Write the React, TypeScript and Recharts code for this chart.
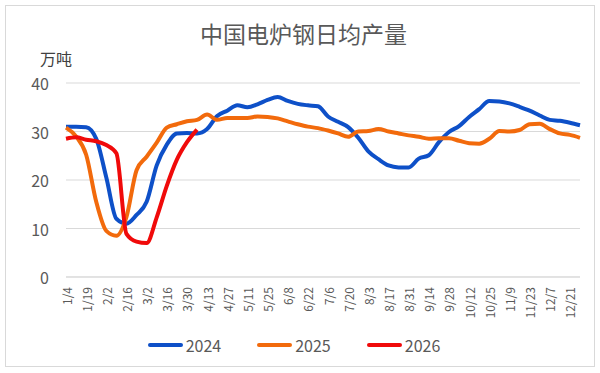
import React from 'react';
import { LineChart, Line, XAxis, YAxis, CartesianGrid, Legend } from 'recharts';

const dates = [
  '1/4', '1/11', '1/19', '1/26', '2/2', '2/9', '2/16', '2/23', '3/2', '3/9', '3/16', '3/23', '3/30',
  '4/6', '4/13', '4/20', '4/27', '5/4', '5/11', '5/18', '5/25', '6/1', '6/8', '6/15', '6/22', '6/29',
  '7/6', '7/13', '7/20', '7/27', '8/3', '8/10', '8/17', '8/24', '8/31', '9/7', '9/14', '9/21', '9/28',
  '10/5', '10/12', '10/19', '10/25', '11/1', '11/9', '11/16', '11/23', '11/30', '12/7', '12/14', '12/21', '12/28',
];

const v2024 = [
  31.0, 31.0, 30.9, 28.5, 20.5, 12.0, 11.0, 12.8, 15.5, 23.0, 27.3, 29.6, 29.7,
  29.6, 30.5, 33.2, 34.3, 35.4, 35.0, 35.6, 36.5, 37.1, 36.3, 35.7, 35.4, 35.2,
  33.1, 32.0, 30.9, 28.7, 25.9, 24.3, 23.0, 22.6, 22.6, 24.4, 25.1, 27.8, 29.9,
  31.1, 33.0, 34.6, 36.3, 36.2, 35.8, 35.1, 34.3, 33.3, 32.4, 32.2, 31.8, 31.3,
];

const v2025 = [
  30.8, 29.0, 25.2, 15.5, 9.5, 8.5, 12.4, 22.0, 24.8, 27.7, 30.8, 31.5, 32.1,
  32.4, 33.5, 32.4, 32.8, 32.8, 32.8, 33.1, 33.0, 32.7, 32.1, 31.5, 31.0, 30.7,
  30.2, 29.6, 28.9, 30.0, 30.1, 30.5, 30.0, 29.6, 29.2, 28.9, 28.5, 28.6, 28.6,
  28.1, 27.6, 27.5, 28.5, 30.1, 30.0, 30.3, 31.5, 31.6, 30.5, 29.6, 29.3, 28.7,
];

const v2026 = [28.5, 28.8, 28.3, 28.0, 27.2, 25.5, 8.9, 7.3, 7.0, 12.3, 18.8, 24.2, 27.8, 30.4];

const yTicks = [0, 10, 20, 30, 40];

const series = [
  { key: 'y2024', name: '2024', color: '#0E50C8' },
  { key: 'y2025', name: '2025', color: '#F26A0C' },
  { key: 'y2026', name: '2026', color: '#F00A0A' },
];

const data = dates.map((d, i) => ({
  date: d,
  y2024: v2024[i],
  y2025: v2025[i],
  y2026: i < v2026.length ? v2026[i] : null,
}));

const font = '"Noto Sans CJK SC", "Noto Sans", sans-serif';
const textColor = '#595959';

function XTick({ x, payload }: any) {
  return (
    <text x={x} y={287} transform={`rotate(-90, ${x}, 287)`} textAnchor="end" dominantBaseline="central"
      fontSize={12} fill={textColor} fontFamily={font}>
      {payload.value}
    </text>
  );
}

function YTick({ y, payload }: any) {
  return (
    <text x={49} y={y} textAnchor="end" dominantBaseline="central" fontSize={16} fill={textColor} fontFamily={font}>
      {payload.value}
    </text>
  );
}

function LegendBox() {
  return (
    <div style={{ position: 'relative', top: -6, left: 4, display: 'flex', justifyContent: 'center', gap: 36, fontFamily: font, fontSize: 16, color: textColor }}>
      {series.map((s) => (
        <div key={s.key} style={{ display: 'flex', alignItems: 'center' }}>
          <span style={{ display: 'inline-block', width: 35, height: 4, borderRadius: 2, background: s.color, marginRight: 3 }} />
          <span>{s.name}</span>
        </div>
      ))}
    </div>
  );
}

export default function App() {
  return (
    <div style={{ position: 'absolute', left: 0, top: 0, width: 600, height: 373, background: '#fff' }}>
      <div style={{ position: 'absolute', left: 5, top: 5, width: 588, height: 360, border: '1px solid #d9d9d9' }} />
      <div style={{ position: 'absolute', left: 0, top: 16, width: 607, textAlign: 'center', fontFamily: font, fontSize: 23, color: textColor }}>
        中国电炉钢日均产量
      </div>
      <div style={{ position: 'absolute', left: 40, top: 46, fontFamily: font, fontSize: 16, color: '#404040' }}>
        万吨
      </div>
      <div style={{ position: 'absolute', left: 0, top: 0 }}>
        <LineChart width={600} height={373} data={data} margin={{ top: 83, right: 20, left: 0, bottom: 4 }}>
          <CartesianGrid horizontal vertical={false} stroke="#d9d9d9" />
          <XAxis dataKey="date" interval={1} height={62} axisLine={{ stroke: '#d9d9d9' }} tickLine={false} tick={<XTick />} />
          <YAxis domain={[0, 40]} ticks={yTicks} width={66} axisLine={false} tickLine={false} tick={<YTick />} />
          <Legend verticalAlign="bottom" height={30} content={<LegendBox />} />
          {series.map((s) => (
            <Line key={s.key} type="monotone" dataKey={s.key} name={s.name} stroke={s.color} strokeWidth={4}
              dot={false} isAnimationActive={false} connectNulls={false} />
          ))}
        </LineChart>
      </div>
    </div>
  );
}
